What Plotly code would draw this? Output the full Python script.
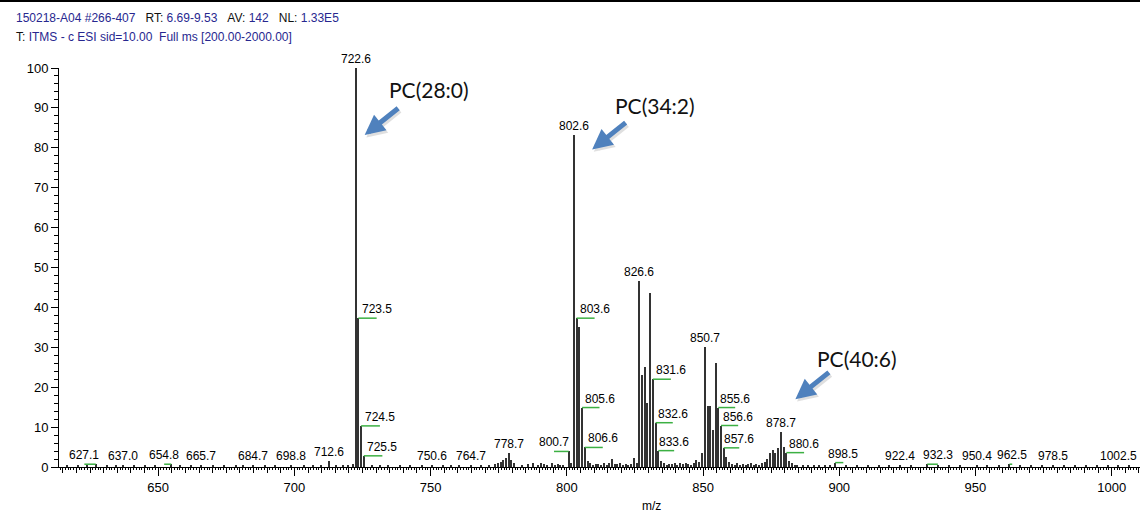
import plotly.graph_objects as go

# ---------------- data ----------------
# main / labelled peaks (m/z, relative abundance %)
peak_mz = [627.1, 637.0, 654.8, 665.7, 684.7, 698.8, 712.6,
           721.6, 722.6, 723.5, 724.5, 725.5,
           750.6, 764.7,
           774.7, 775.7, 776.7, 777.7, 778.7, 779.7, 780.7,
           800.7, 801.7, 802.6, 803.6, 804.6, 805.6, 806.6, 807.6,
           824.6, 825.6, 826.6, 827.6, 828.6, 829.6, 830.6, 831.6, 832.6, 833.6, 834.6,
           847.6, 848.6, 849.6, 850.7, 851.7, 852.7, 853.7, 854.7, 855.6, 856.6, 857.6, 858.6, 859.6,
           872.6, 873.6, 874.6, 875.6, 876.6, 877.6, 878.7, 879.7, 880.6, 881.6, 882.6,
           898.5, 922.4, 932.3, 950.4, 962.5, 978.5, 1002.5]
peak_int = [0.7, 0.6, 0.7, 0.6, 0.6, 0.6, 1.4,
            0.8, 100.0, 37.3, 10.3, 2.8,
            0.6, 0.6,
            1.0, 1.3, 1.8, 2.2, 3.4, 1.8, 1.0,
            3.9, 1.0, 83.2, 37.3, 35.2, 14.9, 4.9, 1.5,
            2.2, 1.0, 46.6, 23.0, 25.1, 16.1, 43.6, 22.0, 11.1, 4.1, 1.5,
            1.7, 1.2, 3.5, 30.2, 15.4, 15.2, 9.3, 26.0, 14.9, 10.4, 4.8, 2.6, 1.3,
            1.2, 2.0, 3.5, 4.3, 3.5, 4.8, 8.8, 5.0, 3.6, 1.6, 0.9,
            1.1, 0.6, 0.7, 0.6, 0.7, 0.6, 0.6]

# low-level background peaks
noise_mz = [616.7, 620.4, 624.0, 631.2, 634.5, 641.0, 645.2, 648.7, 658.2, 661.9,
            670.3, 674.0, 678.6, 681.2, 689.4, 693.0, 703.5, 706.8, 709.6, 715.4,
            717.8, 719.6, 728.6, 731.6, 734.5, 738.6, 742.6, 746.7, 754.6, 757.6,
            760.6, 768.6, 771.6, 773.7,
            783.6, 785.6, 787.7, 789.6, 790.7, 791.6, 792.7, 794.6, 795.6, 796.7, 797.6, 798.7,
            808.6, 809.6, 810.6, 811.6, 812.6, 813.6, 814.6, 815.6, 816.6, 817.6, 818.6,
            819.6, 820.6, 821.6, 822.6, 823.6,
            835.6, 836.6, 837.6, 838.6, 839.6, 840.6, 841.6, 842.6, 843.6, 844.6, 845.6, 846.6,
            860.6, 861.6, 862.6, 863.6, 864.6, 865.6, 866.6, 867.6, 868.6, 869.6, 870.6, 871.6,
            883.6, 884.6, 886.6, 888.6, 890.6, 892.6, 894.6, 896.6,
            902.5, 906.5, 910.4, 914.6, 918.4, 926.4, 936.4, 940.4, 944.5, 954.4,
            958.5, 966.5, 970.4, 974.5, 982.5, 986.5, 990.5, 994.5, 998.5, 1006.5]
noise_int = [0.3, 0.4, 0.3, 0.4, 0.3, 0.3, 0.4, 0.3, 0.4, 0.3,
             0.4, 0.3, 0.4, 0.3, 0.3, 0.4, 0.4, 0.3, 0.5, 0.6,
             0.5, 0.4, 0.5, 0.4, 0.4, 0.3, 0.4, 0.3, 0.4, 0.3,
             0.4, 0.5, 0.6, 0.7,
             0.5, 0.7, 0.9, 0.6, 1.0, 0.8, 0.6, 0.9, 0.5, 0.7, 0.6, 0.5,
             0.9, 0.6, 0.8, 0.7, 0.5, 0.9, 0.6, 1.1, 2.0, 0.8, 0.7,
             0.9, 0.6, 0.8, 0.5, 0.7,
             0.9, 0.6, 0.8, 0.7, 1.0, 0.6, 0.9, 0.7, 1.1, 0.8, 0.6, 1.0,
             0.8, 0.6, 0.9, 0.5, 0.8, 0.6, 0.7, 0.9, 0.5, 0.8, 0.6, 0.9,
             0.6, 0.4, 0.5, 0.4, 0.5, 0.4, 0.3, 0.4,
             0.3, 0.4, 0.3, 0.3, 0.4, 0.3, 0.3, 0.4, 0.3, 0.3,
             0.4, 0.3, 0.4, 0.3, 0.3, 0.4, 0.3, 0.3, 0.3, 0.3]

# peak labels shown on the spectrum
label_mz = [627.1, 637.0, 654.8, 665.7, 684.7, 698.8, 712.6, 722.6, 723.5, 724.5, 725.5,
            750.6, 764.7, 778.7, 800.7, 802.6, 803.6, 805.6, 806.6, 826.6, 831.6, 832.6,
            833.6, 850.7, 855.6, 856.6, 857.6, 878.7, 880.6, 898.5, 922.4, 932.3, 950.4,
            962.5, 978.5, 1002.5]

# lipid annotations
lipid_names = ["PC(28:0)", "PC(34:2)", "PC(40:6)"]
lipid_mz = [722.6, 802.6, 878.7]

header_line1 = ("150218-A04 #266-407", "6.69-9.53", "142", "1.33E5")
header_line2 = "ITMS - c ESI sid=10.00  Full ms [200.00-2000.00]"

# ---------------- style ----------------
# horizontal label offsets (m/z units) for labels drawn with a green leader
label_shift = {627.1: -4.2, 654.8: -2.6, 723.5: 6.7, 724.5: 6.9, 725.5: 6.8,
               800.7: -5.4, 803.6: 6.6, 805.6: 6.4, 806.6: 6.6, 831.6: 6.6,
               832.6: 6.3, 833.6: 5.8, 855.6: 6.2, 856.6: 6.3, 857.6: 5.7,
               880.6: 6.5, 898.5: 3.0, 932.3: 3.9, 962.5: 1.0}
lipid_text_pos = {"PC(28:0)": (749.3, 94.5), "PC(34:2)": (832.3, 90.5), "PC(40:6)": (906.6, 27.3)}
arrow_tip = {"PC(28:0)": (725.8, 83.2), "PC(34:2)": (809.3, 79.6), "PC(40:6)": (883.9, 17.0)}

FONT = "Liberation Sans, Arial, sans-serif"
BLUE = "#27278f"
ARROW = "#4f81bd"
X_RANGE = [613.6, 1010.4]

all_mz = peak_mz + noise_mz
all_int = peak_int + noise_int
intensity_of = dict(zip(peak_mz, peak_int))

fig = go.Figure()
fig.add_trace(go.Bar(x=all_mz, y=all_int, width=0.38,
                     marker=dict(color="#333333", line=dict(width=0)),
                     hoverinfo="x+y", showlegend=False))
# invisible trace on the overlay axis that carries the 5-unit ticks
fig.add_trace(go.Scatter(x=[X_RANGE[0]], y=[0], xaxis="x2", mode="markers",
                         marker=dict(opacity=0), hoverinfo="skip", showlegend=False))

annotations = []
shapes = []
for mz in label_mz:
    h = intensity_of[mz]
    dx = label_shift.get(mz, 0.0)
    if dx != 0.0:
        shapes.append(dict(type="line", xref="x", yref="y", x0=mz, x1=mz + dx,
                           y0=h, y1=h, line=dict(color="#3cb043", width=1.5)))
    annotations.append(dict(x=mz + dx, y=h, xref="x", yref="y", text=f"{mz:.1f}",
                            showarrow=False, xanchor="center", yanchor="bottom",
                            yshift=0, font=dict(family=FONT, size=12, color="#000000")))

for name in lipid_names:
    tx, ty = lipid_text_pos[name]
    annotations.append(dict(x=tx, y=ty, xref="x", yref="y", text=name, showarrow=False,
                            xanchor="center", yanchor="middle",
                            font=dict(family="Lato, Open Sans, sans-serif", size=21, color="#111111")))
    ax_, ay_ = arrow_tip[name]
    # shadow
    annotations.append(dict(x=ax_ + 0.6, y=ay_ - 0.6, xref="x", yref="y", text="",
                            showarrow=True, ax=35, ay=-28, arrowhead=2, arrowsize=0.8,
                            arrowwidth=5, arrowcolor="rgba(0,0,0,0.12)", standoff=0))
    annotations.append(dict(x=ax_, y=ay_, xref="x", yref="y", text="",
                            showarrow=True, ax=35, ay=-28, arrowhead=2, arrowsize=0.8,
                            arrowwidth=5, arrowcolor=ARROW, standoff=0))

# header
h1 = (f"<span style='color:{BLUE}'>{header_line1[0]}</span>&nbsp;&nbsp;&nbsp;"
      f"<span style='color:#111'>RT:</span> <span style='color:{BLUE}'>{header_line1[1]}</span>&nbsp;&nbsp;&nbsp;"
      f"<span style='color:#111'>AV:</span> <span style='color:{BLUE}'>{header_line1[2]}</span>&nbsp;&nbsp;&nbsp;"
      f"<span style='color:#111'>NL:</span> <span style='color:{BLUE}'>{header_line1[3]}</span>")
h2 = f"<span style='color:#111'>T:</span> <span style='color:{BLUE}'>{header_line2}</span>"
annotations.append(dict(x=-0.0416, y=1.1253, xref="paper", yref="paper", text=h1,
                        showarrow=False, xanchor="left", yanchor="middle",
                        font=dict(family=FONT, size=12, color=BLUE)))
annotations.append(dict(x=-0.0416, y=1.0777, xref="paper", yref="paper", text=h2,
                        showarrow=False, xanchor="left", yanchor="middle",
                        font=dict(family=FONT, size=12, color=BLUE)))
# axis title
annotations.append(dict(x=831.1, y=-0.0977, xref="x", yref="paper", text="m/z",
                        showarrow=False, xanchor="center", yanchor="middle",
                        font=dict(family=FONT, size=12, color="#000000")))

# top border line
shapes.append(dict(type="line", xref="paper", yref="paper", x0=-0.06, x1=1.01,
                   y0=1.168, y1=1.168, line=dict(color="#000000", width=2)))

fig.update_layout(
    width=1140, height=514,
    margin=dict(l=59, r=0, t=68, b=47),
    plot_bgcolor="white", paper_bgcolor="white",
    annotations=annotations, shapes=shapes,
    bargap=0,
    xaxis=dict(range=X_RANGE, tickmode="linear", tick0=650, dtick=50,
               ticks="outside", ticklen=8, tickwidth=1, tickcolor="#000",
               showline=True, linecolor="#000", linewidth=1, showgrid=False, zeroline=False,
               tickfont=dict(family=FONT, size=13, color="#000"),
               minor=dict(tickmode="linear", tick0=650, dtick=1, ticks="outside", ticklen=2,
                          tickcolor="#000", showgrid=False)),
    xaxis2=dict(range=X_RANGE, overlaying="x", anchor="y", side="bottom",
                tickmode="linear", tick0=650, dtick=5, ticks="outside", ticklen=5,
                tickcolor="#000", showticklabels=False, showline=False,
                showgrid=False, zeroline=False),
    yaxis=dict(range=[0, 100], tickmode="linear", tick0=0, dtick=10,
               ticks="outside", ticklen=7, tickwidth=1, tickcolor="#000",
               showline=True, linecolor="#000", linewidth=1, showgrid=False, zeroline=False,
               tickfont=dict(family=FONT, size=13, color="#000"),
               minor=dict(tickmode="linear", tick0=0, dtick=2, ticks="outside", ticklen=4,
                          tickcolor="#000", showgrid=False)),
)

fig.write_html("out.html")
